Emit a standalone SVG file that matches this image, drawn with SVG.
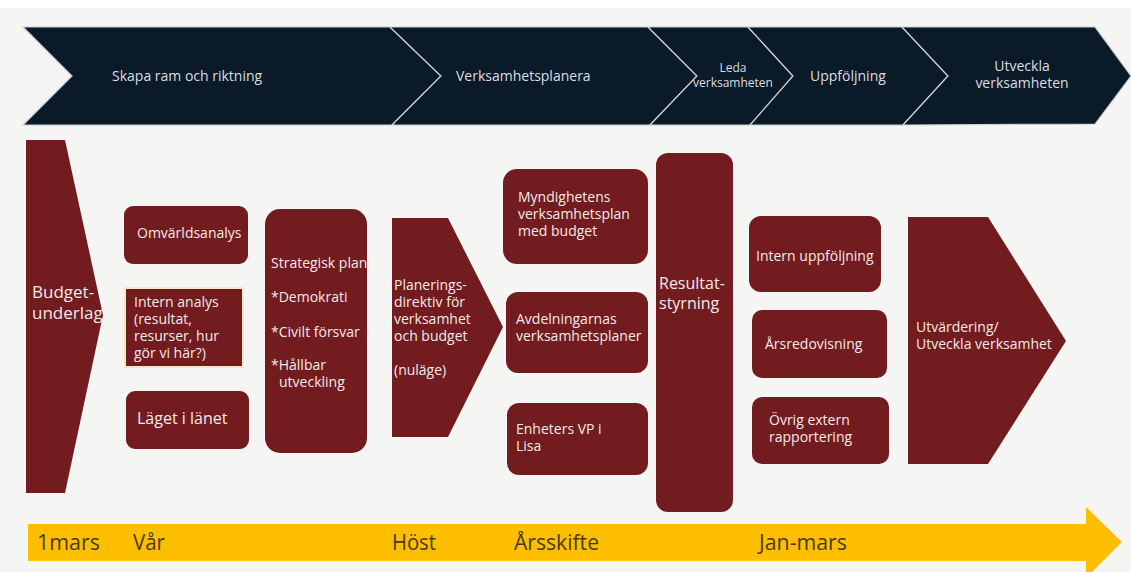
<svg xmlns="http://www.w3.org/2000/svg" width="1131" height="572" viewBox="0 0 1131 572">
<defs>
<style>
.bg{fill:#f5f5f4}
.phase{fill:#0b1a28;stroke:#c9ced3;stroke-width:1.2;stroke-linejoin:miter}
.ptxt{font-family:"Open Sans","Liberation Sans",sans-serif;font-size:14px;fill:#d9dee3}
.box{fill:#721c1f}
.t{font-family:"Open Sans","Liberation Sans",sans-serif;font-size:14px;fill:#f3e9e9}
.tl{font-family:"Open Sans","Liberation Sans",sans-serif;font-size:16px;fill:#f3e9e9}
.band{fill:#fdbf00}
.btxt{font-family:"Open Sans","Liberation Sans",sans-serif;font-size:21px;fill:#4a3a12}
</style>
<clipPath id="clipStrat"><rect x="265" y="209" width="102" height="244" rx="15"/></clipPath>
</defs>
<rect x="0" y="0" width="1131" height="572" fill="#ffffff"/>
<rect class="bg" x="0" y="8" width="1131" height="564"/>

<g id="phase-skapa">
<polygon class="phase" points="23,27 390,27 441,76 392,125 23,125 72,76"/>
<text class="ptxt" x="112" y="81">Skapa ram och riktning</text>
</g>
<g id="phase-planera">
<polygon class="phase" points="390,27 648,27 697,76 650,125 392,125 441,76"/>
<text class="ptxt" x="456" y="81">Verksamhetsplanera</text>
</g>
<g id="phase-leda">
<polygon class="phase" points="648,27 748,27 793,76 750,125 650,125 697,76"/>
<text class="ptxt" x="733" y="72" text-anchor="middle" style="font-size:12px">Leda</text>
<text class="ptxt" x="733" y="87" text-anchor="middle" style="font-size:12px">verksamheten</text>
</g>
<g id="phase-uppfoljning">
<polygon class="phase" points="748,27 902,27 948,76 903,125 750,125 793,76"/>
<text class="ptxt" x="810" y="81">Uppföljning</text>
</g>
<g id="phase-utveckla">
<polygon class="phase" points="902,27 1095,27 1131,76 1095,124 903,125 948,76"/>
<text class="ptxt" x="1022" y="71" text-anchor="middle">Utveckla</text>
<text class="ptxt" x="1022" y="88" text-anchor="middle">verksamheten</text>
</g>

<g id="budgetunderlag">
<polygon class="box" points="26,140 65,140 103,315 65,493 26,493"/>
<text class="tl" x="32" y="298" style="font-size:17px">Budget-</text>
<text class="tl" x="32" y="319" style="font-size:17px">underlag</text>
</g>

<g id="omvarldsanalys">
<rect class="box" x="124" y="206" width="124" height="58" rx="9"/>
<text class="t" x="137" y="238">Omvärldsanalys</text>
</g>

<g id="intern-analys">
<rect class="box" x="125" y="288" width="118" height="79" stroke="#f7e7c4" stroke-width="2"/>
<text class="t" x="134" y="307">Intern analys</text>
<text class="t" x="134" y="324">(resultat,</text>
<text class="t" x="134" y="341">resurser, hur</text>
<text class="t" x="134" y="358">gör vi här?)</text>
</g>

<g id="laget-i-lanet">
<rect class="box" x="126" y="391" width="123" height="58" rx="9"/>
<text class="tl" x="137" y="424">Läget i länet</text>
</g>

<g id="strategisk-plan">
<rect class="box" x="265" y="209" width="102" height="244" rx="15"/>
<g clip-path="url(#clipStrat)">
<text class="t" x="271" y="268">Strategisk plan</text>
</g>
<text class="t" x="271" y="302">*Demokrati</text>
<text class="t" x="271" y="337">*Civilt försvar</text>
<text class="t" x="271" y="370">*Hållbar</text>
<text class="t" x="279" y="387">utveckling</text>
</g>

<g id="planeringsdirektiv">
<polygon class="box" points="392,218 448,218 503,327 448,437 392,437"/>
<text class="t" x="394" y="290">Planerings-</text>
<text class="t" x="394" y="307">direktiv för</text>
<text class="t" x="394" y="324">verksamhet</text>
<text class="t" x="394" y="341">och budget</text>
<text class="t" x="394" y="375">(nuläge)</text>
</g>

<g id="myndighetens-vp">
<rect class="box" x="503" y="169" width="145" height="95" rx="14"/>
<text class="t" x="518" y="202">Myndighetens</text>
<text class="t" x="518" y="219">verksamhetsplan</text>
<text class="t" x="518" y="236">med budget</text>
</g>

<g id="avdelningarnas-vp">
<rect class="box" x="506" y="292" width="142" height="81" rx="12"/>
<text class="t" x="516" y="324">Avdelningarnas</text>
<text class="t" x="516" y="341">verksamhetsplaner</text>
</g>

<g id="enheters-vp">
<rect class="box" x="507" y="403" width="141" height="72" rx="12"/>
<text class="t" x="516" y="434">Enheters VP i</text>
<text class="t" x="516" y="451">Lisa</text>
</g>

<g id="resultatstyrning">
<rect class="box" x="656" y="153" width="77" height="359" rx="12"/>
<text class="tl" x="659" y="289">Resultat-</text>
<text class="tl" x="659" y="309">styrning</text>
</g>

<g id="intern-uppfoljning">
<rect class="box" x="749" y="216" width="132" height="76" rx="12"/>
<text class="t" x="756" y="261">Intern uppföljning</text>
</g>

<g id="arsredovisning">
<rect class="box" x="752" y="310" width="135" height="68" rx="10"/>
<text class="t" x="765" y="349">Årsredovisning</text>
</g>

<g id="ovrig-extern">
<rect class="box" x="752" y="397" width="137" height="67" rx="10"/>
<text class="t" x="769" y="425">Övrig extern</text>
<text class="t" x="769" y="442">rapportering</text>
</g>

<g id="utvardering">
<polygon class="box" points="908,217 988,217 1066,341 988,464 908,464"/>
<text class="t" x="916" y="332">Utvärdering/</text>
<text class="t" x="916" y="349">Utveckla verksamhet</text>
</g>

<g id="connectors">
<polygon id="timeline" class="band" points="28,524 1086,524 1086,507 1122,542 1086,578 1086,561 28,561"/>
</g>

<g id="timeline-labels">
<text class="btxt" x="37" y="550" textLength="63" lengthAdjust="spacingAndGlyphs">1mars</text>
<text class="btxt" x="133" y="550" textLength="32" lengthAdjust="spacingAndGlyphs">Vår</text>
<text class="btxt" x="392" y="550" textLength="44" lengthAdjust="spacingAndGlyphs">Höst</text>
<text class="btxt" x="514" y="550" textLength="85" lengthAdjust="spacingAndGlyphs">Årsskifte</text>
<text class="btxt" x="759" y="550" textLength="88" lengthAdjust="spacingAndGlyphs">Jan-mars</text>
</g>
</svg>
